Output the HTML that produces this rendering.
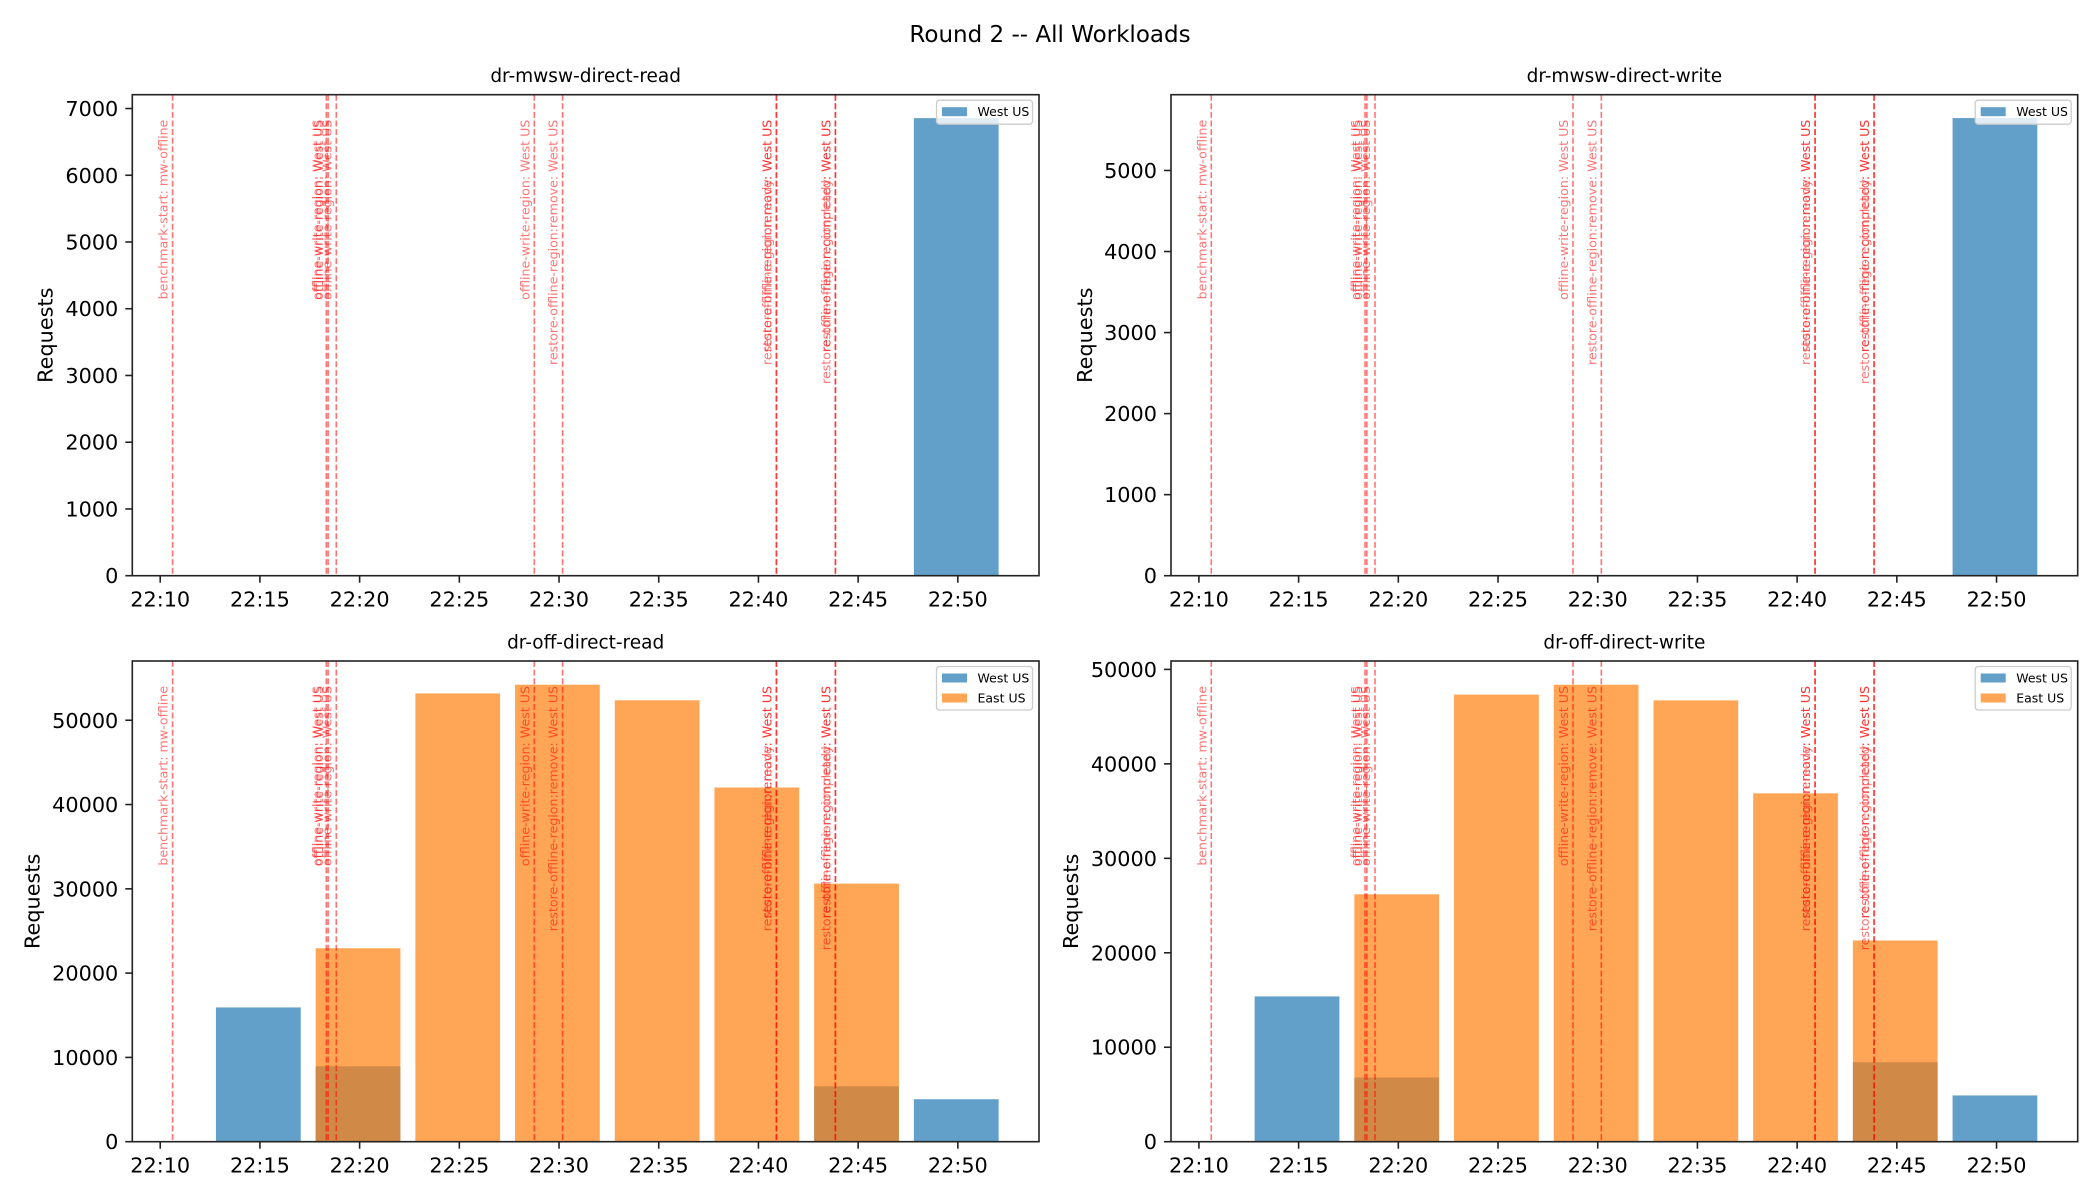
<!DOCTYPE html>
<html><head><meta charset="utf-8">
<style>
html,body{margin:0;padding:0;background:#fff;}
svg{display:block;font-family:"DejaVu Sans","Liberation Sans",sans-serif;}
</style></head>
<body>
<svg id="chart" width="2100" height="1200" viewBox="0 0 2100 1200" xmlns="http://www.w3.org/2000/svg">
<rect width="2100" height="1200" fill="#fff"/>
<text x="1050" y="42" font-size="23" text-anchor="middle" fill="#000">Round 2 -- All Workloads</text>
</svg>
<script>
// shared data
const xTickLabels = ["22:10","22:15","22:20","22:25","22:30","22:35","22:40","22:45","22:50"];
const xTickMinutes = [0,5,10,15,20,25,30,35,40];
const barMinutes = [5,10,15,20,25,30,35,40];
const eventMinutes = [0.62, 8.33, 8.42, 8.83, 18.76, 20.18, 30.9, 30.9, 33.86, 33.86];
const eventLabels = ["benchmark-start: mw-offline","offline-write-region: West US","offline-write-region: West US","offline-write-region: West US","offline-write-region: West US","restore-offline-region:remove: West US","restore-offline-region:ready: West US","restore-offline-region:remove: West US","restore-offline-region:completed: West US","restore-offline-region:ready: West US"];

// per-panel series (minutes after 22:10 -> requests)
const readMwswWest = [0,0,0,0,0,0,0,6856];
const writeMwswWest = [0,0,0,0,0,0,0,5647];
const readOffWest = [15930,8940,0,0,0,0,6580,5040];
const readOffEast = [0,22950,53180,54220,52370,42020,30620,0];
const writeOffWest = [15380,6800,0,0,0,0,8420,4900];
const writeOffEast = [0,26190,47330,48380,46720,36880,21300,0];

const readMwswTicks = [0,1000,2000,3000,4000,5000,6000,7000];
const writeMwswTicks = [0,1000,2000,3000,4000,5000];
const offTicks = [0,10000,20000,30000,40000,50000];

const NS = "http://www.w3.org/2000/svg";
const svg = document.getElementById("chart");
function mk(tag, attrs, parent){
  const e = document.createElementNS(NS, tag);
  for (const k in attrs) e.setAttribute(k, attrs[k]);
  (parent||svg).appendChild(e);
  return e;
}
const XMIN = -1.40, XMAX = 44.07, BARW = 4.25, BAROFF = -0.08;
const BLUE = "#1f77b4", ORANGE = "#ff7f0e";

const panels = [
  {name:"dr-mwsw-direct-read", L:132.3, T:94.7, W:906.7, H:481, ymax:7207, ticks:readMwswTicks, west:readMwswWest, east:null, ylabOff:87},
  {name:"dr-mwsw-direct-write", L:1171, T:94.7, W:906.7, H:481, ymax:5935, ticks:writeMwswTicks, west:writeMwswWest, east:null, ylabOff:86},
  {name:"dr-off-direct-read", L:132.3, T:661, W:906.7, H:480.7, ymax:57030, ticks:offTicks, west:readOffWest, east:readOffEast, ylabOff:100},
  {name:"dr-off-direct-write", L:1171, T:661, W:906.7, H:480.7, ymax:50890, ticks:offTicks, west:writeOffWest, east:writeOffEast, ylabOff:100}
];

panels.forEach(p => {
  const g = mk("g", {});
  
  
  const xs = m => p.L + (m - XMIN) / (XMAX - XMIN) * p.W;
  const ys = v => p.T + p.H - v / p.ymax * p.H;
  const bottom = p.T + p.H;

  const drawSeries = (arr, color, label) => {
    arr.forEach((v, i) => {
      if (!v) return;
      const c = barMinutes[i] + BAROFF;
      const x0 = xs(c - BARW/2), x1 = xs(c + BARW/2);
      const r = mk("rect", {x:x0, y:ys(v), width:x1-x0, height:bottom-ys(v), fill:color, "fill-opacity":0.7}, g);
      
      
    });
  };
  drawSeries(p.west, BLUE, 'west-us');
  if (p.east) drawSeries(p.east, ORANGE, 'east-us');

  eventMinutes.forEach((m, i) => {
    const x = xs(m);
    const ln = mk("line", {x1:x, x2:x, y1:p.T, y2:bottom, stroke:"#ff0000", "stroke-opacity":0.55, "stroke-width":1.6, "stroke-dasharray":"6,2.6"}, g);
    
    
    const tx = x - 5, ty = p.T + 25;
    const t = mk("text", {x:tx, y:ty, "font-size":12.6, fill:"#ff0000", "fill-opacity":0.55, "text-anchor":"end", transform:`rotate(-90 ${tx} ${ty})`}, g);
    t.textContent = eventLabels[i];
    
    
  });

  const fr = mk("rect", {x:p.L, y:p.T, width:p.W, height:p.H, fill:"none", stroke:"#222", "stroke-width":1.6}, g);
  
  

  xTickMinutes.forEach((m, i) => {
    const x = xs(m);
    mk("line", {x1:x, x2:x, y1:bottom, y2:bottom+7, stroke:"#222", "stroke-width":1.6}, g);
    const t = mk("text", {x:x, y:bottom+31, "font-size":20.8, "text-anchor":"middle", fill:"#000"}, g);
    t.textContent = xTickLabels[i];
    
    
  });
  p.ticks.forEach(v => {
    const y = ys(v);
    mk("line", {x1:p.L-7, x2:p.L, y1:y, y2:y, stroke:"#222", "stroke-width":1.6}, g);
    const t = mk("text", {x:p.L-14, y:y+7.5, "font-size":20.8, "text-anchor":"end", fill:"#000"}, g);
    t.textContent = String(v);
    
    
  });
  const lx = p.L - p.ylabOff + 7, ly = p.T + p.H/2;
  const yl = mk("text", {x:lx, y:ly, "font-size":20.8, "text-anchor":"middle", fill:"#000", transform:`rotate(-90 ${lx} ${ly})`}, g);
  yl.textContent = "Requests";
  
  
  const tt = mk("text", {x:p.L + p.W/2, y:p.T - 12.5, "font-size":18.5, "text-anchor":"middle", fill:"#000"}, g);
  tt.textContent = p.name;
  
  

  const entries = p.east ? [["West US", BLUE],["East US", ORANGE]] : [["West US", BLUE]];
  const lgR = p.L + p.W - 6.5, lgT = p.T + 5.5;
  const lgW = 96, lgH = p.east ? 43.5 : 24;
  const lg = mk("g", {}, g);
  
  
  mk("rect", {x:lgR-lgW, y:lgT, width:lgW, height:lgH, rx:3, fill:"#fff", "fill-opacity":0.8, stroke:"#ccc", "stroke-width":1.3}, lg);
  entries.forEach((e, i) => {
    const cy = lgT + 11.5 + i*20;
    const pr = mk("rect", {x:lgR-lgW+5.5, y:cy-4.5, width:25, height:9, fill:e[1], "fill-opacity":0.7}, lg);
    
    
    const t = mk("text", {x:lgR-lgW+41, y:cy+4.5, "font-size":12.5, fill:"#000"}, lg);
    t.textContent = e[0];
    
    
  });
});
</script>
</body></html>
